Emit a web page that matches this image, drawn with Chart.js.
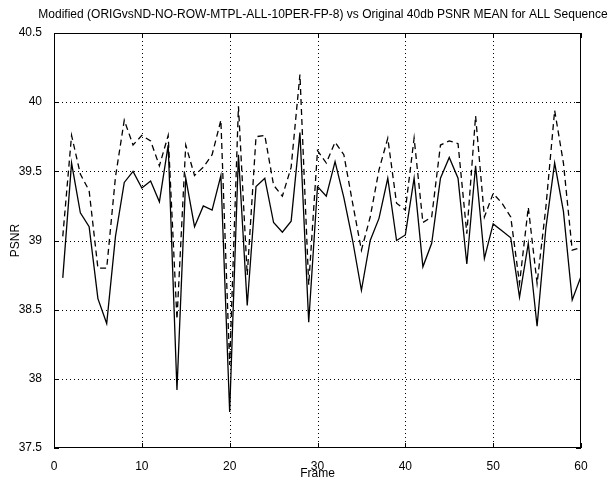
<!DOCTYPE html>
<html lang="en">
<head>
<meta charset="UTF-8">
<title>PSNR MEAN</title>
<script src="https://cdn.jsdelivr.net/npm/chart.js"></script>
<style>
    body { margin: 0; padding: 0; background: #ffffff; }
    #wrap { width: 610px; height: 481px; position: relative; }
</style>
</head>
<body>
<div id="wrap"><canvas id="psnrCanvas"></canvas></div>
<script>
    const frames = [];
    for (let f = 1; f <= 60; f++) frames.push(f);

    // solid line
    const modifiedPsnr = [
        38.73, 39.56, 39.20, 39.10, 38.58, 38.40, 39.03, 39.42, 39.50, 39.38,
        39.43, 39.28, 39.69, 37.92, 39.45, 39.10, 39.25, 39.22, 39.47, 37.76,
        39.62, 38.53, 39.39, 39.45, 39.13, 39.06, 39.14, 39.78, 38.41, 39.39,
        39.32, 39.57, 39.31, 39.00, 38.64, 39.00, 39.16, 39.45, 39.00, 39.04,
        39.45, 38.81, 38.98, 39.45, 39.60, 39.45, 38.83, 39.54, 38.87, 39.12,
        39.07, 39.02, 38.59, 38.98, 38.38, 39.09, 39.56, 39.21, 38.57, 38.74
    ];
    // dashed line
    const originalPsnr = [
        39.03, 39.76, 39.48, 39.36, 38.80, 38.80, 39.46, 39.87, 39.69, 39.76,
        39.72, 39.54, 39.76, 38.43, 39.69, 39.47, 39.53, 39.62, 39.87, 38.10,
        39.97, 38.75, 39.75, 39.76, 39.40, 39.32, 39.53, 40.20, 38.68, 39.65,
        39.56, 39.71, 39.62, 39.27, 38.93, 39.17, 39.51, 39.74, 39.27, 39.22,
        39.74, 39.13, 39.17, 39.69, 39.72, 39.70, 39.05, 39.90, 39.17, 39.34,
        39.27, 39.17, 38.69, 39.24, 38.69, 39.24, 39.94, 39.56, 38.93, 38.95
    ];
    const xTicks = [0, 10, 20, 30, 40, 50, 60];
    const yTicks = [37.5, 38, 38.5, 39, 39.5, 40, 40.5];
    const titleText = "Modified (ORIGvsND-NO-ROW-MTPL-ALL-10PER-FP-8) vs Original 40db PSNR MEAN for ALL Sequence";

    const fontName = "'Liberation Sans', Arial, sans-serif";

    // dotted grid under the lines, clipped to the plot box
    const dottedGrid = {
        id: "dottedGrid",
        beforeDatasetsDraw(chart) {
            const ctx = chart.ctx;
            const a = chart.chartArea;
            const xs = chart.scales.x, ys = chart.scales.y;
            ctx.save();
            ctx.beginPath();
            ctx.rect(a.left, a.top, a.right - a.left, a.bottom - a.top);
            ctx.clip();
            ctx.strokeStyle = "#000";
            ctx.lineWidth = 1;
            ctx.setLineDash([1, 3]);
            ctx.beginPath();
            xTicks.slice(1, -1).forEach(v => {
                const px = Math.round(xs.getPixelForValue(v)) + 0.5;
                ctx.moveTo(px, a.top); ctx.lineTo(px, a.bottom);
            });
            yTicks.slice(1, -1).forEach(v => {
                const py = Math.round(ys.getPixelForValue(v)) + 0.5;
                ctx.moveTo(a.left, py); ctx.lineTo(a.right, py);
            });
            ctx.stroke();
            ctx.restore();
        }
    };

    // frame box, inward ticks and title
    const matlabBox = {
        id: "matlabBox",
        afterDraw(chart) {
            const ctx = chart.ctx;
            const a = chart.chartArea;
            const xs = chart.scales.x, ys = chart.scales.y;
            ctx.save();
            ctx.strokeStyle = "#000";
            ctx.lineWidth = 1;
            ctx.setLineDash([]);
            ctx.strokeRect(a.left + 0.5, a.top + 0.5, a.right - a.left - 1, a.bottom - a.top - 1);
            ctx.beginPath();
            xTicks.forEach(v => {
                const px = Math.round(xs.getPixelForValue(v)) + 0.5;
                ctx.moveTo(px, a.bottom); ctx.lineTo(px, a.bottom - 5);
                ctx.moveTo(px, a.top); ctx.lineTo(px, a.top + 5);
            });
            yTicks.forEach(v => {
                const py = Math.round(ys.getPixelForValue(v)) + 0.5;
                ctx.moveTo(a.left, py); ctx.lineTo(a.left + 5, py);
                ctx.moveTo(a.right, py); ctx.lineTo(a.right - 5, py);
            });
            ctx.stroke();
            ctx.fillStyle = "#000";
            ctx.font = "12px " + fontName;
            ctx.textAlign = "center";
            ctx.textBaseline = "middle";
            ctx.fillText(titleText, 323, 15);
            ctx.restore();
        }
    };

    new Chart(document.getElementById("psnrCanvas"), {
        type: "line",
        data: {
            datasets: [
                {
                    label: "Modified",
                    data: frames.map((f, i) => ({ x: f, y: modifiedPsnr[i] })),
                    borderColor: "#000",
                    borderWidth: 1.3,
                    pointRadius: 0,
                    tension: 0,
                    fill: false
                },
                {
                    label: "Original",
                    data: frames.map((f, i) => ({ x: f, y: originalPsnr[i] })),
                    borderColor: "#000",
                    borderWidth: 1.3,
                    borderDash: [6, 4],
                    pointRadius: 0,
                    tension: 0,
                    fill: false
                }
            ]
        },
        options: {
            responsive: true,
            maintainAspectRatio: false,
            animation: false,
            layout: { padding: { top: 33, right: 29, left: 0, bottom: 0 } },
            plugins: {
                legend: { display: false },
                tooltip: { enabled: false }
            },
            scales: {
                x: {
                    type: "linear",
                    min: 0,
                    max: 60,
                    afterBuildTicks: s => { s.ticks = xTicks.map(v => ({ value: v })); },
                    afterFit: s => { s.height = 33; },
                    grid: { display: false },
                    border: { display: false },
                    ticks: { color: "#000", font: { family: fontName, size: 12 }, padding: 3, maxRotation: 0,
                             callback: v => String(v) },
                    title: { display: true, text: "Frame", color: "#000", font: { family: fontName, size: 12 }, padding: 0 }
                },
                y: {
                    type: "linear",
                    min: 37.5,
                    max: 40.5,
                    afterBuildTicks: s => { s.ticks = yTicks.map(v => ({ value: v })); },
                    afterFit: s => { s.width = 54; },
                    grid: { display: false },
                    border: { display: false },
                    ticks: { color: "#000", font: { family: fontName, size: 12 }, padding: 4,
                             callback: v => String(v) },
                    title: { display: true, text: "PSNR", color: "#000", font: { family: fontName, size: 12 }, padding: { top: 8, bottom: 0 } }
                }
            }
        },
        plugins: [dottedGrid, matlabBox]
    });
</script>
</body>
</html>
